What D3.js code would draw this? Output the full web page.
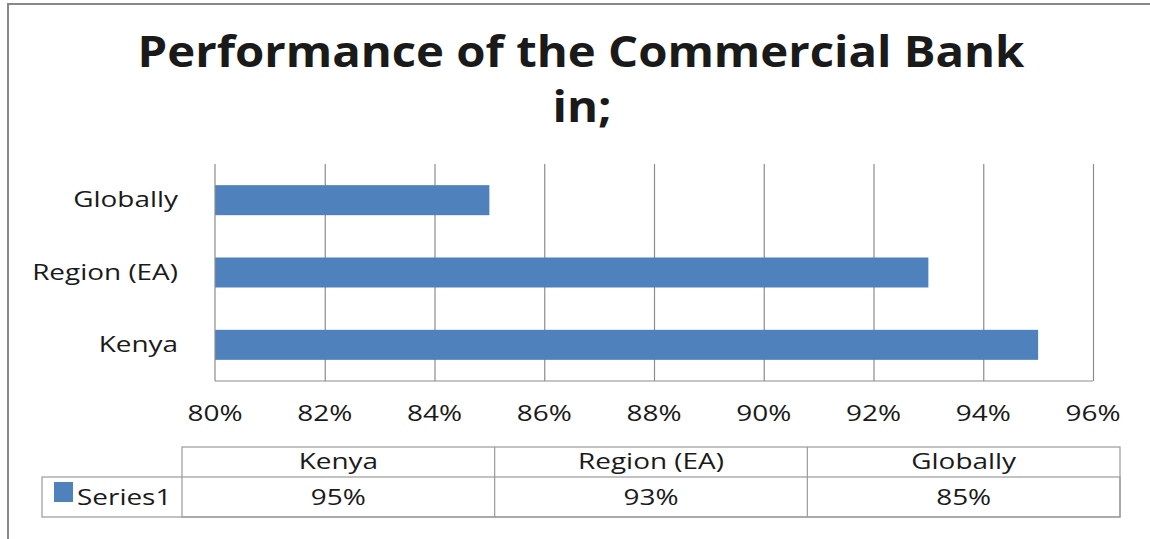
<!DOCTYPE html>
<html>
<head>
<meta charset="utf-8">
<script src="https://cdn.jsdelivr.net/npm/d3@7"></script>
<style>
  html, body { margin: 0; padding: 0; background: #fff; }
  svg { display: block; }
  text { font-family: "Open Sans", "Noto Sans", sans-serif; fill: #1a1a1a; }
</style>
</head>
<body>
<svg id="chart" width="1150" height="539"></svg>
<script>
// Chart data
const categories = ["Kenya", "Region (EA)", "Globally"];
const values = [0.95, 0.93, 0.85];
const seriesName = "Series1";
const xTicks = [0.80, 0.82, 0.84, 0.86, 0.88, 0.90, 0.92, 0.94, 0.96];
const titleLines = ["Performance of the Commercial Bank", "in;"];

const W = 1150, H = 539;
const SX = 1.33;              // horizontal stretch of glyphs
const barColor = "#4f81bd";
const gridColor = "#8c8c8c";
const tableColor = "#9a9a9a";

const svg = d3.select("#chart");
const fmt = d3.format(".0%");

// text helper: anchor at (x, y) with glyphs stretched horizontally
function label(g, x, y, str, opts = {}) {
  return g.append("text")
    .attr("transform", `translate(${x},${y}) scale(${opts.sx || SX},1)`)
    .attr("text-anchor", opts.anchor || "middle")
    .attr("font-size", opts.size || 20)
    .attr("font-weight", opts.weight || "normal")
    .text(str);
}

// outer chart frame (clipped at right and bottom edges)
svg.append("rect")
  .attr("x", 8).attr("y", 4)
  .attr("width", W + 20).attr("height", H + 20)
  .attr("fill", "#fff")
  .attr("stroke", "#878787").attr("stroke-width", 2);

// title
label(svg, 581, 67, titleLines[0], { size: 43, weight: "bold", sx: 1.1 });
label(svg, 582, 122, titleLines[1], { size: 43, weight: "bold", sx: 1.1 });

// plot area
const plot = { left: 215, right: 1093, top: 164, bottom: 381 };
const x = d3.scaleLinear().domain([xTicks[0], xTicks[xTicks.length - 1]])
  .range([plot.left, plot.right]);
const y = d3.scaleBand().domain(categories.slice().reverse())
  .range([plot.top, plot.bottom])
  .paddingInner(0.585).paddingOuter(0.2925);

// vertical gridlines
const grid = svg.append("g")
  .attr("transform", `translate(0,${plot.bottom})`)
  .call(d3.axisBottom(x).tickValues(xTicks.slice(1))
    .tickSize(-(plot.bottom - plot.top)).tickFormat(""));
grid.select(".domain").remove();
grid.selectAll("line").attr("stroke", gridColor).attr("stroke-width", 1.2);

// bars
svg.append("g").selectAll("rect")
  .data(categories.map((c, i) => ({ c, v: values[i] })))
  .join("rect")
  .attr("x", x(xTicks[0]))
  .attr("y", d => y(d.c))
  .attr("width", d => x(d.v) - x(xTicks[0]))
  .attr("height", y.bandwidth())
  .attr("fill", barColor);

// axis lines
svg.append("line")
  .attr("x1", plot.left).attr("x2", plot.left)
  .attr("y1", plot.top).attr("y2", plot.bottom)
  .attr("stroke", gridColor).attr("stroke-width", 1.2);
svg.append("line")
  .attr("x1", plot.left).attr("x2", plot.right)
  .attr("y1", plot.bottom).attr("y2", plot.bottom)
  .attr("stroke", gridColor).attr("stroke-width", 1.2);

// x tick labels
const xl = svg.append("g");
xTicks.forEach(t => label(xl, x(t), 421, fmt(t), { size: 21 }));

// category labels
const yl = svg.append("g");
categories.forEach(c => label(yl, 178, y(c) + y.bandwidth() / 2 + 7, c, { size: 21, anchor: "end" }));

// data table
const table = { left: 42, colStart: 182, right: 1120, top: 447, mid: 477, bottom: 517 };
const colX = d3.scaleBand().domain(categories)
  .range([table.colStart, table.right]);
const tg = svg.append("g")
  .attr("fill", "none").attr("stroke", tableColor).attr("stroke-width", 1.2);
tg.append("rect").attr("x", table.colStart).attr("y", table.top)
  .attr("width", table.right - table.colStart).attr("height", table.bottom - table.top);
tg.append("rect").attr("x", table.left).attr("y", table.mid)
  .attr("width", table.right - table.left).attr("height", table.bottom - table.mid);
categories.slice(1).forEach(c => {
  tg.append("line").attr("x1", colX(c)).attr("x2", colX(c))
    .attr("y1", table.top).attr("y2", table.bottom);
});

const tt = svg.append("g");
categories.forEach((c, i) => {
  const cx = colX(c) + colX.bandwidth() / 2;
  label(tt, cx, table.top + 22, c, { size: 21 });
  label(tt, cx, table.mid + 28, fmt(values[i]), { size: 21 });
});

// legend key in the table
svg.append("rect").attr("x", 54).attr("y", 482).attr("width", 19).attr("height", 20)
  .attr("fill", barColor);
label(svg, 77, table.mid + 28, seriesName, { size: 21, anchor: "start" });
</script>
</body>
</html>
